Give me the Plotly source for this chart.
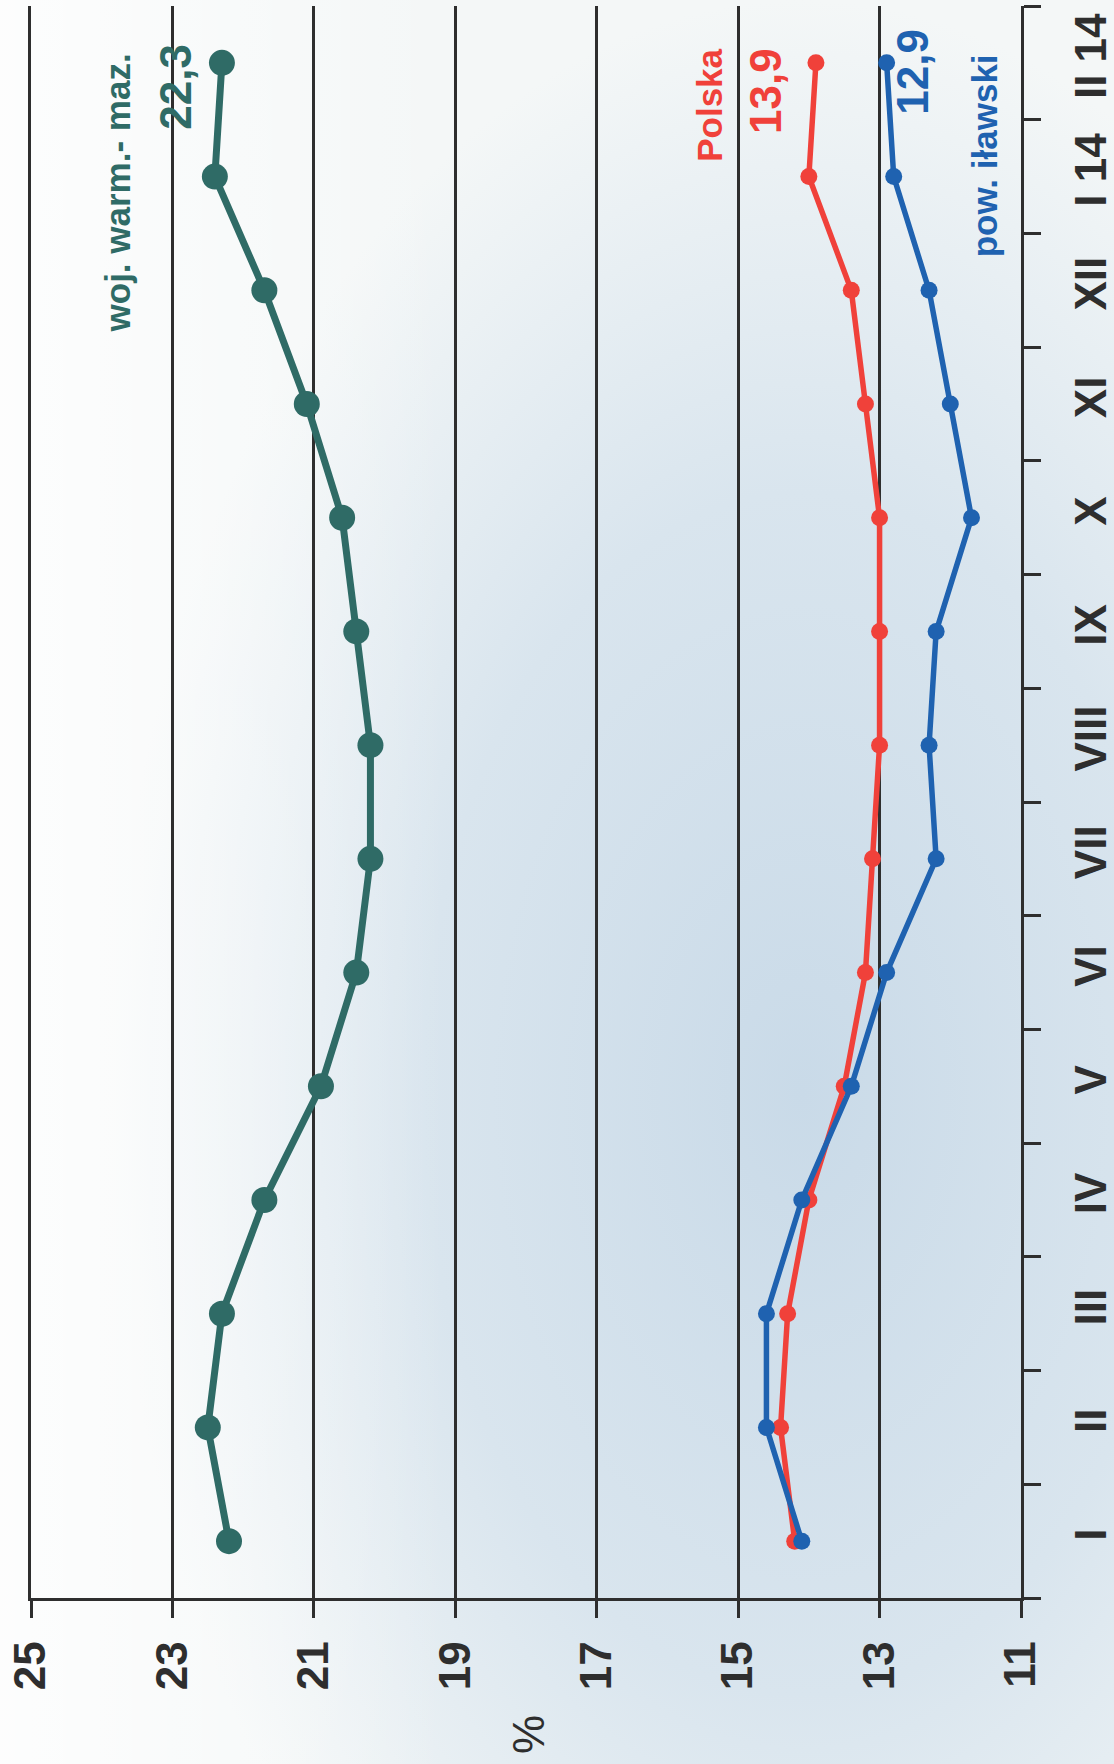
import base64
import plotly.graph_objects as go

# ---------------- data ----------------
months = ["I", "II", "III", "IV", "V", "VI", "VII", "VIII", "IX", "X", "XI", "XII", "I 14", "II 14"]
woj = [22.2, 22.5, 22.3, 21.7, 20.9, 20.4, 20.2, 20.2, 20.4, 20.6, 21.1, 21.7, 22.4, 22.3]
polska = [14.2, 14.4, 14.3, 14.0, 13.5, 13.2, 13.1, 13.0, 13.0, 13.0, 13.2, 13.4, 14.0, 13.9]
ilawski = [14.1, 14.6, 14.6, 14.1, 13.4, 12.9, 12.2, 12.3, 12.2, 11.7, 12.0, 12.3, 12.8, 12.9]
pct_ticks = [25, 23, 21, 19, 17, 15, 13, 11]
series_names = ["woj. warm.- maz.", "Polska", "pow. iławski"]

TEAL = "#2f6b66"
RED = "#f0413a"
BLUE = "#1f62b0"
INK = "#2e2e2e"
FONT = "Liberation Sans, Arial, sans-serif"


def fmt(v):
    return f"{v:.1f}".replace(".", ",")


# background gradient (photo-like wash)
svg = """<svg xmlns='http://www.w3.org/2000/svg' width='1114' height='1764'>
<defs>
<radialGradient id='g' cx='0.72' cy='0.62' r='0.62'>
<stop offset='0' stop-color='#c9dae8'/>
<stop offset='0.55' stop-color='#d9e5ee'/>
<stop offset='1' stop-color='#f4f7f7'/>
</radialGradient>
<linearGradient id='l' x1='0' y1='0' x2='1' y2='0'>
<stop offset='0' stop-color='#ffffff' stop-opacity='0.8'/>
<stop offset='0.4' stop-color='#ffffff' stop-opacity='0.0'/>
</linearGradient>
</defs>
<rect width='1114' height='1764' fill='url(#g)'/>
<rect width='1114' height='1764' fill='url(#l)'/>
</svg>"""
bg_src = "data:image/svg+xml;base64," + base64.b64encode(svg.encode()).decode()

fig = go.Figure()
fig.add_trace(go.Scatter(x=woj, y=months, mode="lines+markers", name=series_names[0],
                         line=dict(color=TEAL, width=7), marker=dict(color=TEAL, size=26)))
fig.add_trace(go.Scatter(x=polska, y=months, mode="lines+markers", name=series_names[1],
                         line=dict(color=RED, width=5.5), marker=dict(color=RED, size=17)))
fig.add_trace(go.Scatter(x=ilawski, y=months, mode="lines+markers", name=series_names[2],
                         line=dict(color=BLUE, width=5.5), marker=dict(color=BLUE, size=17)))

W, H = 1114, 1764
ML, MR, MT, MB = 31, 93, 6, 166
pw, ph = W - ML - MR, H - MT - MB

fig.add_layout_image(dict(source=bg_src, xref="paper", yref="paper",
                          x=-ML / pw, y=1 + MT / ph, sizex=W / pw, sizey=H / ph,
                          sizing="stretch", layer="below", xanchor="left", yanchor="top"))

ann_font = dict(family=FONT, size=35, weight="bold")
val_font = dict(family=FONT, size=44, weight="bold")
annotations = [
    dict(text=series_names[0], x=23.77, y=11.86, font=dict(ann_font, color=TEAL)),
    dict(text=fmt(woj[-1]), x=22.95, y=12.79, font=dict(val_font, color=TEAL)),
    dict(text=series_names[1], x=15.40, y=12.63, font=dict(ann_font, color=RED)),
    dict(text=fmt(polska[-1]), x=14.61, y=12.75, font=dict(val_font, color=RED)),
    dict(text=fmt(ilawski[-1]), x=12.53, y=12.92, font=dict(val_font, color=BLUE)),
    dict(text=series_names[2], x=11.52, y=12.18, font=dict(ann_font, color=BLUE)),
]
for a in annotations:
    a.update(xref="x", yref="y", showarrow=False, textangle=-90,
             xanchor="center", yanchor="middle")
# "%" axis caption, centred ~137px under the plot, ~497px from plot left
annotations.append(dict(text="%", xref="paper", yref="paper", x=497 / pw,
                        y=-137 / ph, showarrow=False, textangle=-90,
                        xanchor="center", yanchor="middle",
                        font=dict(family=FONT, size=44, color=INK)))

fig.update_layout(
    width=W, height=H,
    margin=dict(l=ML, r=MR, t=MT, b=MB, pad=0, autoexpand=False),
    paper_bgcolor="#f4f7f7",
    plot_bgcolor="rgba(0,0,0,0)",
    showlegend=False,
    font=dict(family=FONT, color=INK),
    annotations=annotations,
    xaxis=dict(
        range=[25, 11], tickmode="array", tickvals=pct_ticks,
        ticktext=[str(t) for t in pct_ticks], automargin=False,
        showgrid=True, gridcolor=INK, gridwidth=2.5,
        showline=True, linecolor=INK, linewidth=2.5,
        ticks="outside", ticklen=17, tickwidth=2.5, tickcolor=INK,
        tickangle=-90, ticklabelstandoff=6, ticklabeloverflow="allow",
        tickfont=dict(family=FONT, size=44, color=INK, weight="bold"),
        zeroline=False,
    ),
    yaxis=dict(
        type="category", categoryorder="array", categoryarray=months,
        range=[-0.5, len(months) - 0.5], side="right", automargin=False,
        tickson="boundaries", ticks="outside", ticklen=17, tickwidth=2.5, tickcolor=INK,
        showline=True, linecolor=INK, linewidth=2.5, mirror=True,
        showgrid=False, zeroline=False,
        tickangle=-90, ticklabelstandoff=29, ticklabeloverflow="allow",
        tickfont=dict(family=FONT, size=44, color=INK, weight="bold"),
    ),
)

# remove the default 8px page margin so the 1114x1764 figure fills the window exactly
fig.write_html("out.html", config={"displayModeBar": False},
               post_script="document.body.style.margin='0';document.body.style.overflow='hidden';")
